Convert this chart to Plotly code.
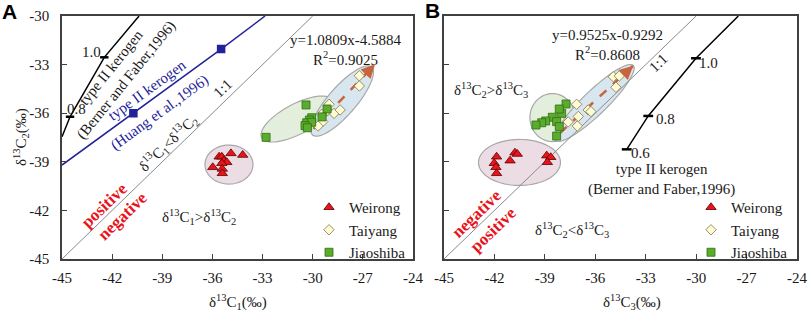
import numpy as np
import plotly.graph_objects as go

# ---------------- DATA ----------------
# Panel A: x = d13C1, y = d13C2
weirong_A_c1 = [-35.60, -35.44, -34.89, -34.19, -35.31, -35.14, -35.44, -35.98, -35.41, -35.41]
weirong_A_c2 = [-38.69, -38.69, -38.48, -38.58, -38.93, -39.03, -39.09, -39.34, -39.44, -39.71]
taiyang_A_c1 = [-27.21, -27.21, -29.02, -29.12, -28.72, -28.36, -29.46, -29.40, -29.68]
taiyang_A_c2 = [-33.69, -34.32, -35.45, -35.85, -36.01, -35.80, -36.07, -36.52, -36.79]
jiaoshiba_A_c1 = [-30.40, -30.06, -30.20, -30.36, -30.06, -30.46, -30.32, -32.79, -29.14, -29.44]
jiaoshiba_A_c2 = [-35.49, -36.28, -36.42, -36.59, -36.56, -36.77, -36.90, -37.49, -35.74, -36.23]

# Panel B: x = d13C3, y = d13C2
weirong_B_c3 = [-41.87, -42.01, -41.91, -41.87, -40.78, -40.64, -41.07, -38.89, -38.65, -38.85]
weirong_B_c2 = [-38.69, -39.09, -39.34, -39.71, -38.44, -38.52, -38.93, -38.62, -38.72, -39.03]
taiyang_B_c3 = [-34.93, -34.57, -34.77, -37.11, -36.42, -36.26, -37.01, -37.61, -37.07]
taiyang_B_c2 = [-33.75, -33.70, -34.40, -35.45, -35.80, -35.90, -36.20, -36.54, -36.79]
jiaoshiba_B_c3 = [-37.74, -38.00, -38.14, -38.56, -38.30, -38.14, -38.95, -39.19, -39.53, -38.30]
jiaoshiba_B_c2 = [-35.43, -36.01, -35.74, -36.25, -36.52, -36.83, -36.48, -36.59, -36.73, -37.41]

# Reference kerogen curves
berner_A_c1 = [-45.00, -44.52, -42.47, -40.39]
berner_A_c2 = [-37.45, -36.22, -32.55, -30.00]
berner_A_mk_c1 = [-44.52, -42.47]
berner_A_mk_c2 = [-36.22, -32.55]
berner_A_labels = ["0.8", "1.0"]

huang_A_c1 = [-45.00, -40.73, -35.48, -32.85]
huang_A_c2 = [-39.20, -36.00, -32.04, -30.00]
huang_A_mk_c1 = [-40.73, -35.48]
huang_A_mk_c2 = [-36.00, -32.04]

berner_B_c3 = [-34.13, -32.85, -30.01, -27.49]
berner_B_c2 = [-38.23, -36.17, -32.61, -30.00]
berner_B_mk_c3 = [-34.13, -32.85, -30.01]
berner_B_mk_c2 = [-38.23, -36.17, -32.61]
berner_B_labels = ["0.6", "0.8", "1.0"]

one_to_one = [-45, -30]

# regression fits (slope, intercept, R2) and arrow x-extent
fit_A = (1.0809, -4.5884, 0.9025)
fit_B = (0.9525, -0.9292, 0.8608)
arrow_A_x = [-29.96, -26.27]
arrow_B_x = [-38.10, -33.74]

tick_vals = [-45, -42, -39, -36, -33, -30, -27, -24]
tick_text = ["-45", "-42", "-39", "-36", "-33", "-30", "-27", "-24"]
ytick_vals = [-45, -42, -39, -36, -33, -30]
ytick_text = ["-45", "-42", "-39", "-36", "-33", "-30"]

# ---------------- LAYOUT CONSTANTS ----------------
W, H = 809, 312
A_x0, A_x1 = 62, 413
B_x0, B_x1 = 444, 797
Y_top, Y_bot = 16, 259
sxA = (A_x1 - A_x0) / 21.0
sxB = (B_x1 - B_x0) / 21.0
sy = (Y_bot - Y_top) / 15.0

SERIF = "Liberation Serif"
TXT = "#1a1a1a"
RED = "#e8141b"
BLUE = "#22229a"
ORANGE = "#c8643c"
FS = 15

fig = go.Figure()

def add_species(xs, ys, name, symbol, fill, edge, size, xa, ya, legend):
    fig.add_trace(go.Scatter(
        x=xs, y=ys, mode="markers", name=name, xaxis=xa, yaxis=ya, legend=legend,
        marker=dict(symbol=symbol, color=fill, size=size, line=dict(color=edge, width=0.8)),
    ))

def add_line(xs, ys, color, width, xa, ya, dash="solid"):
    fig.add_trace(go.Scatter(x=xs, y=ys, mode="lines", xaxis=xa, yaxis=ya, showlegend=False,
                             line=dict(color=color, width=width, dash=dash), hoverinfo="skip"))

def add_marks(xs, ys, color, symbol, size, xa, ya):
    fig.add_trace(go.Scatter(x=xs, y=ys, mode="markers", xaxis=xa, yaxis=ya, showlegend=False,
                             marker=dict(symbol=symbol, color=color, size=size,
                                         line=dict(color=color, width=2.5)), hoverinfo="skip"))

# reference lines panel A
add_line(one_to_one, one_to_one, "#8a8a8a", 1, "x", "y")
add_line(berner_A_c1, berner_A_c2, "black", 1.5, "x", "y")
add_marks(berner_A_mk_c1, berner_A_mk_c2, "black", "line-ew", 6, "x", "y")
add_line(huang_A_c1, huang_A_c2, BLUE, 1.5, "x", "y")
add_marks(huang_A_mk_c1, huang_A_mk_c2, BLUE, "square", 6, "x", "y")

# reference lines panel B
add_line(one_to_one, one_to_one, "#8a8a8a", 1, "x2", "y2")
add_line(berner_B_c3, berner_B_c2, "black", 1.5, "x2", "y2")
add_marks(berner_B_mk_c3, berner_B_mk_c2, "black", "line-ew", 7, "x2", "y2")

# regression arrows (dashed shaft)
for (m, c, _), xs, xa, ya in [(fit_A, arrow_A_x, "x", "y"), (fit_B, arrow_B_x, "x2", "y2")]:
    ys = [m * v + c for v in xs]
    add_line(xs, ys, ORANGE, 2.5, xa, ya, dash="dash")

# species
add_species(weirong_A_c1, weirong_A_c2, "Weirong", "triangle-up", RED, "#5a0000", 9, "x", "y", "legend")
add_species(taiyang_A_c1, taiyang_A_c2, "Taiyang", "diamond", "#fffbd2", "#7d7450", 8, "x", "y", "legend")
add_species(jiaoshiba_A_c1, jiaoshiba_A_c2, "Jiaoshiba", "square", "#5bab2c", "#2d6e10", 8, "x", "y", "legend")
add_species(weirong_B_c3, weirong_B_c2, "Weirong", "triangle-up", RED, "#5a0000", 9, "x2", "y2", "legend2")
add_species(taiyang_B_c3, taiyang_B_c2, "Taiyang", "diamond", "#fffbd2", "#7d7450", 8, "x2", "y2", "legend2")
add_species(jiaoshiba_B_c3, jiaoshiba_B_c2, "Jiaoshiba", "square", "#5bab2c", "#2d6e10", 8, "x2", "y2", "legend2")

# ---------------- ELLIPSES ----------------
def ellipse_path(cx, cy, a_px, b_px, ang, sx, n=72):
    th = np.radians(ang)
    t = np.linspace(0, 2 * np.pi, n)
    px = a_px * np.cos(t) * np.cos(th) - b_px * np.sin(t) * np.sin(th)
    py = a_px * np.cos(t) * np.sin(th) + b_px * np.sin(t) * np.cos(th)
    xs = cx + px / sx
    ys = cy + py / sy
    return "M " + " L ".join(f"{x:.4f},{y:.4f}" for x, y in zip(xs, ys)) + " Z"

ellipses = [
    # (cx, cy, a_px, b_px, angle, fill, xref, yref, sx)
    (-35.01, -39.17, 24, 19.5, 0, "#ecdde5", "x", "y", sxA),
    (-30.94, -36.36, 40, 15, 28, "#e3efdc", "x", "y", sxA),
    (-28.24, -35.25, 45, 14, 49, "#d8e6f0", "x", "y", sxA),
    (-40.51, -39.04, 41, 23, 0, "#ecdde5", "x2", "y2", sxB),
    (-38.55, -36.27, 22.5, 24, 0, "#e3efdc", "x2", "y2", sxB),
    (-36.05, -35.37, 54, 12, 44, "#d8e6f0", "x2", "y2", sxB),
]
shapes = []
for cx, cy, a, b, ang, fill, xr, yr, sx in ellipses:
    shapes.append(dict(type="path", path=ellipse_path(cx, cy, a, b, ang, sx), xref=xr, yref=yr,
                       fillcolor=fill, line=dict(color="#a8a8a8", width=1.2), layer="below"))

# ---------------- ANNOTATIONS ----------------
ann = []
def T(x, y, text, xref="x", yref="y", size=FS, color=TXT, angle=0, family=SERIF, bold=False):
    if bold:
        text = f"<b>{text}</b>"
    ann.append(dict(x=x, y=y, xref=xref, yref=yref, text=text, showarrow=False, textangle=angle,
                    font=dict(family=family, size=size, color=color), xanchor="center", yanchor="middle"))

d = "\u03b4<sup>13</sup>C"
# Panel A
T(-43.22, -32.20, berner_A_labels[1])
T(-44.16, -35.74, berner_A_labels[0])
T(-41.59, -33.64, "type II kerogen<br>(Berner and Faber,1996)", angle=-51)
T(-39.91, -34.57, "type II kerogen", color=BLUE, angle=-36)
T(-39.14, -35.93, "(Huang et al.,1996)", color=BLUE, angle=-36)
T(-35.37, -34.44, "1:1", angle=-44)
T(-38.66, -37.84, f"{d}<sub>1</sub>&lt;{d}<sub>2</sub>", angle=-44)
T(-42.49, -41.67, "positive", size=17, color=RED, angle=-44, bold=True)
T(-41.41, -42.35, "negative", size=17, color=RED, angle=-44, bold=True)
T(-36.8, -42.4, f"{d}<sub>1</sub>&gt;{d}<sub>2</sub>")
T(-28.06, -32.10, f"y={fit_A[0]}x{fit_A[1]}<br>R<sup>2</sup>={fit_A[2]}")
# Panel B
T(-29.28, -32.92, berner_B_labels[2], "x2", "y2")
T(-31.85, -36.36, berner_B_labels[1], "x2", "y2")
T(-33.30, -38.45, berner_B_labels[0], "x2", "y2")
T(-32.05, -40.08, "type II kerogen<br>(Berner and Faber,1996)", "x2", "y2")
T(-32.25, -32.92, "1:1", "x2", "y2", angle=-44)
T(-42.2, -34.57, f"{d}<sub>2</sub>&gt;{d}<sub>3</sub>", "x2", "y2")
T(-37.39, -43.21, f"{d}<sub>2</sub>&lt;{d}<sub>3</sub>", "x2", "y2")
T(-43.05, -42.18, "negative", "x2", "y2", size=17, color=RED, angle=-44, bold=True)
T(-42.07, -43.17, "positive", "x2", "y2", size=17, color=RED, angle=-44, bold=True)
T(-35.27, -31.80, f"y={fit_B[0]}x{fit_B[1]}<br>R<sup>2</sup>={fit_B[2]}", "x2", "y2")

# arrow heads
for (m, c, _), xs, xr, yr in [(fit_A, arrow_A_x, "x", "y"), (fit_B, arrow_B_x, "x2", "y2")]:
    x_end = xs[1]
    x_st = xs[1] - 0.12 * (xs[1] - xs[0])
    ann.append(dict(x=x_end, y=m * x_end + c, ax=x_st, ay=m * x_st + c, xref=xr, yref=yr, axref=xr, ayref=yr,
                    text="", showarrow=True, arrowhead=2, arrowsize=1.1, arrowwidth=2.5, arrowcolor=ORANGE))

# axis titles & panel letters (paper coords)
def P(px, py, text, size=FS, angle=0, family=SERIF, color=TXT):
    ann.append(dict(x=px / W, y=1 - py / H, xref="paper", yref="paper", text=text, showarrow=False,
                    textangle=angle, font=dict(family=family, size=size, color=color),
                    xanchor="center", yanchor="middle"))

P(238, 302, f"{d}<sub>1</sub>(\u2030)")
P(632, 302, f"{d}<sub>3</sub>(\u2030)")
P(21, 137, f"{d}<sub>2</sub>(\u2030)", angle=-90)
P(9, 12, "<b>A</b>", size=21, family="Liberation Sans", color="black")
P(432, 10, "<b>B</b>", size=21, family="Liberation Sans", color="black")

axis_common = dict(showline=True, linecolor="#404040", linewidth=1.5, mirror=True, showgrid=False,
                   zeroline=False, ticks="inside", ticklen=5, tickcolor="#404040", tickwidth=1,
                   automargin=False, tickfont=dict(family=SERIF, size=FS, color=TXT))

legend_common = dict(xanchor="left", yanchor="middle", bgcolor="rgba(0,0,0,0)", borderwidth=0,
                     font=dict(family=SERIF, size=FS, color=TXT), itemwidth=30, tracegroupgap=0)

fig.update_layout(
    template="none",
    width=W, height=H, margin=dict(l=0, r=0, t=0, b=0, pad=0, autoexpand=False),
    paper_bgcolor="white", plot_bgcolor="rgba(0,0,0,0)",
    xaxis=dict(domain=[A_x0 / W, A_x1 / W], range=[-45, -24], tickvals=tick_vals, ticktext=tick_text,
               anchor="y", ticklabelstandoff=4, **axis_common),
    yaxis=dict(domain=[1 - Y_bot / H, 1 - Y_top / H], range=[-45, -30], tickvals=ytick_vals,
               ticktext=ytick_text, anchor="x", ticklabelstandoff=8, **axis_common),
    xaxis2=dict(domain=[B_x0 / W, B_x1 / W], range=[-45, -24], tickvals=tick_vals, ticktext=tick_text,
                anchor="y2", ticklabelstandoff=4, **axis_common),
    yaxis2=dict(domain=[1 - Y_bot / H, 1 - Y_top / H], range=[-45, -30], tickvals=ytick_vals,
                showticklabels=False, anchor="x2", **axis_common),
    shapes=shapes, annotations=ann,
    legend=dict(x=309 / W, y=1 - 230 / H, **legend_common),
    legend2=dict(x=691 / W, y=1 - 230 / H, **legend_common),
    hovermode=False,
)

fig.write_html("out.html", config={"displayModeBar": False},
               post_script="document.body.style.margin='0px';document.body.style.overflow='hidden';")
